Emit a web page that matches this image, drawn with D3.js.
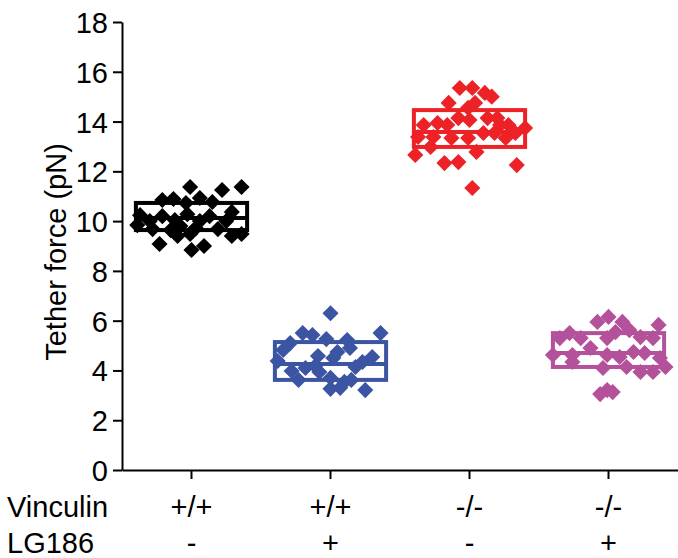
<!DOCTYPE html>
<html>
<head>
<meta charset="utf-8">
<script src="https://d3js.org/d3.v7.min.js"></script>
<style>
  body { margin: 0; background: #fff; }
  text { font-family: "Liberation Sans", Arial, sans-serif; fill: #000; }
</style>
</head>
<body>
<svg id="chart" width="678" height="558"></svg>
<script>
    // groups, in order along the x axis
    const groups = ["wt", "wt_lg", "ko", "ko_lg"];
    const vinculin = ["+/+", "+/+", "-/-", "-/-"];
    const lg186 = ["-", "+", "-", "+"];
    const colors = ["#000000", "#3b55a3", "#ec2227", "#b4519b"];

    // tether force values (pN) read off the plot, and each point's horizontal
    // scatter as a fraction of the group band
    const wtValues = [11.37, 11.25, 11.37, 10.85, 10.89, 10.73, 10.93, 10.77, 10.24, 10.0,
        10.2, 10.04, 10.28, 10.0, 10.2, 10.0, 10.37, 9.84, 9.68, 9.64,
        9.72, 9.68, 9.08, 9.4, 9.48, 8.84, 9.0, 9.4, 9.48, 9.8];
    const wtJitter = [-0.01, 0.22, 0.36, -0.21, -0.13, -0.04, 0.06, 0.15, -0.37, -0.3,
        -0.21, -0.12, -0.03, 0.06, 0.13, 0.25, 0.29, -0.39, -0.28, -0.15,
        0.03, 0.19, -0.23, -0.1, -0.01, 0.0, 0.09, 0.29, 0.36, -0.08];

    const wtLgValues = [6.3, 5.5, 5.5, 5.42, 5.26, 5.22, 5.1, 4.82, 4.74, 4.38,
        4.1, 4.18, 4.5, 4.34, 4.54, 4.14, 3.62, 3.98, 3.94, 3.7,
        3.26, 3.3, 3.54, 3.62, 3.21, 4.58, 4.9];
    const wtLgJitter = [0.0, 0.36, -0.2, -0.13, -0.03, 0.12, -0.29, -0.34, 0.05, -0.38,
        -0.18, -0.11, 0.02, 0.23, 0.3, 0.18, -0.23, -0.28, -0.08, 0.0,
        0.0, 0.07, 0.1, 0.15, 0.25, -0.09, 0.14];

    const koValues = [15.35, 15.35, 15.15, 15.0, 14.75, 14.55, 14.75, 13.86, 13.94, 13.86,
        14.14, 14.06, 14.14, 14.14, 13.86, 13.74, 13.54, 13.34, 13.38, 13.38,
        13.34, 13.34, 13.54, 13.54, 12.66, 12.98, 12.33, 12.37, 12.78, 12.25,
        11.33, 13.86];
    const koJitter = [-0.07, 0.02, 0.11, 0.16, -0.15, -0.01, 0.04, -0.33, -0.23, -0.16,
        -0.08, 0.0, 0.13, 0.2, 0.28, 0.4, 0.33, 0.26, -0.37, -0.26,
        -0.13, -0.01, 0.1, 0.18, -0.39, -0.28, -0.18, -0.08, 0.05, 0.34,
        0.02, 0.22];

    const koLgValues = [6.15, 5.95, 5.95, 5.83, 5.5, 5.54, 5.62, 5.3, 5.3, 5.3,
        5.34, 5.3, 4.62, 4.62, 4.9, 4.62, 4.54, 4.74, 4.7, 4.5,
        4.1, 4.14, 3.94, 3.94, 4.14, 4.34, 3.21, 3.05, 3.13];
    const koLgJitter = [0.0, -0.08, 0.1, 0.36, -0.28, 0.05, 0.15, -0.35, -0.2, -0.01,
        0.23, 0.32, -0.4, -0.26, -0.13, -0.01, 0.08, 0.18, 0.26, 0.37,
        -0.04, 0.13, 0.23, 0.32, 0.41, -0.26, -0.01, -0.06, 0.03];

    // boxes: lower quartile, median, upper quartile
    const q1 = [9.64, 3.62, 12.98, 4.14];
    const median = [10.12, 4.26, 13.58, 4.7];
    const q3 = [10.73, 5.14, 14.46, 5.5];

    const yTicks = [0, 2, 4, 6, 8, 10, 12, 14, 16, 18];

    const values = [wtValues, wtLgValues, koValues, koLgValues];
    const jitters = [wtJitter, wtLgJitter, koJitter, koLgJitter];

    const svg = d3.select("#chart");
    const plotLeft = 122, plotRight = 678, plotTop = 22, plotBottom = 470;

    const x = d3.scaleBand().domain(groups).range([plotLeft, plotRight]).padding(0);
    const y = d3.scaleLinear().domain([0, 18]).range([plotBottom, plotTop]);
    const bw = x.bandwidth();
    const cx = g => x(g) + bw / 2;

    // points
    const diamond = d3.symbol().type(d3.symbolSquare).size(130);
    groups.forEach((g, i) => {
        svg.append("g")
            .selectAll("path")
            .data(values[i])
            .join("path")
                .attr("d", diamond)
                .attr("transform", (v, j) => `translate(${cx(g) + jitters[i][j] * bw},${y(v)}) rotate(45)`)
                .attr("fill", colors[i]);
    });

    // boxes
    const boxW = bw * 0.8;
    const boxes = svg.append("g");
    groups.forEach((g, i) => {
        boxes.append("rect")
            .attr("x", cx(g) - boxW / 2)
            .attr("y", y(q3[i]))
            .attr("width", boxW)
            .attr("height", y(q1[i]) - y(q3[i]))
            .attr("fill", "none")
            .attr("stroke", colors[i])
            .attr("stroke-width", 4);
        boxes.append("line")
            .attr("x1", cx(g) - boxW / 2)
            .attr("x2", cx(g) + boxW / 2)
            .attr("y1", y(median[i]))
            .attr("y2", y(median[i]))
            .attr("stroke", colors[i])
            .attr("stroke-width", 4);
    });

    // axes
    const yAxis = svg.append("g")
        .attr("transform", `translate(${plotLeft},0)`)
        .call(d3.axisLeft(y).tickValues(yTicks).tickSize(9).tickPadding(5).tickSizeOuter(0));
    yAxis.selectAll("text").style("font-size", "29px").attr("dy", "0.36em");

    const xAxis = svg.append("g")
        .attr("transform", `translate(0,${plotBottom})`)
        .call(d3.axisBottom(x).tickSize(9).tickSizeOuter(0).tickFormat(""));

    svg.selectAll(".domain, .tick line")
        .attr("stroke", "#000")
        .attr("stroke-width", 2);

    // y title
    svg.append("text")
        .attr("transform", "translate(66,252) rotate(-90)")
        .attr("text-anchor", "middle")
        .style("font-size", "29px")
        .text("Tether force (pN)");

    // condition rows under the axis
    const rows = [["Vinculin", vinculin, 517], ["LG186", lg186, 553]];
    rows.forEach(([name, labels, base]) => {
        svg.append("text")
            .attr("x", 7)
            .attr("y", base)
            .style("font-size", "29px")
            .text(name);
        svg.append("g")
            .selectAll("text")
            .data(labels)
            .join("text")
                .attr("x", (d, i) => cx(groups[i]))
                .attr("y", base)
                .attr("text-anchor", "middle")
                .style("font-size", "29px")
                .text(d => d);
    });
</script>
</body>
</html>
